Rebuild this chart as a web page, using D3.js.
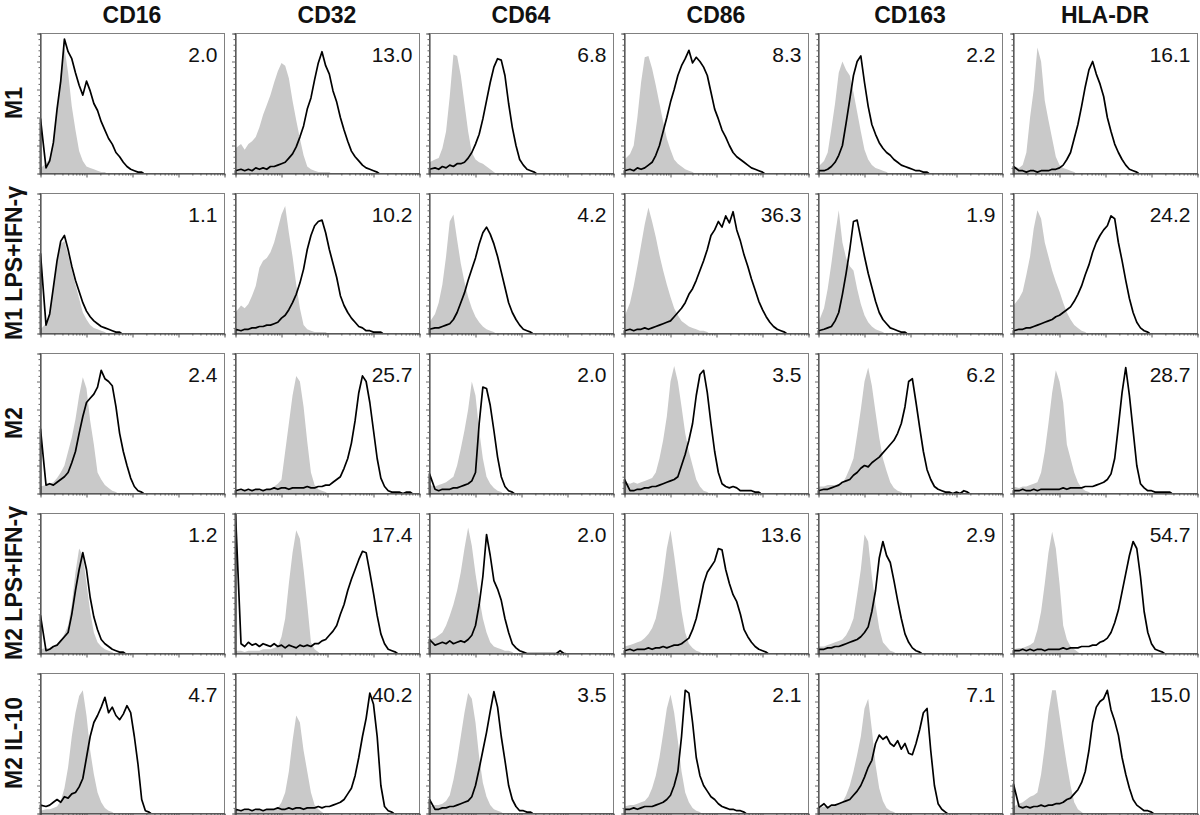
<!DOCTYPE html>
<html>
<head>
<meta charset="utf-8">
<script src="https://cdn.jsdelivr.net/npm/d3@7/dist/d3.min.js"></script>
<style>
html,body{margin:0;padding:0;background:#fff;}
svg{display:block;}
text{font-family:"Liberation Sans",Arial,Helvetica,sans-serif;}
</style>
</head>
<body>
<svg id="chart" width="1200" height="815"></svg>
<script>
// ---- categories ----
const markers = ["CD16", "CD32", "CD64", "CD86", "CD163", "HLA-DR"];
const conditions = ["M1", "M1 LPS+IFN-γ", "M2", "M2 LPS+IFN-γ", "M2 IL-10"];

// ---- numbers printed in each panel (row = condition, col = marker) ----
const panelValues = [
  [2.0, 13.0, 6.8, 8.3, 2.2, 16.1],
  [1.1, 10.2, 4.2, 36.3, 1.9, 24.2],
  [2.4, 25.7, 2.0, 3.5, 6.2, 28.7],
  [1.2, 17.4, 2.0, 13.6, 2.9, 54.7],
  [4.7, 40.2, 3.5, 2.1, 7.1, 15.0]
];

// ---- histograms: 50 channels across the log axis, counts in % of panel max ----
// isotype control (grey fill)
const isoM1 = [
  [4,7,11,23,45,71,90,72,48,31,16,9,5,4,3,2,1,1],
  [18,21,17,21,23,26,33,42,49,56,65,73,79,77,68,52,38,25,13,5,3,2,1,1,1,1],
  [8,10,11,18,30,55,85,84,70,50,30,15,10,8,7,5,3,1],
  [10,14,20,40,65,83,84,75,63,50,37,25,17,10,7,5,3,2,1],
  [5,9,15,32,50,72,80,74,70,58,44,30,17,10,6,4,3,2,1],
  [5,4,6,15,40,60,90,80,52,38,25,12,6,4,3,2,1]
];
const isoM1LPS = [
  [3,7,15,32,50,64,66,56,45,35,25,15,10,6,4,3,2,1],
  [15,20,18,21,27,34,47,52,54,58,65,75,85,91,72,55,35,18,6,3,2,1,1,1,1],
  [8,14,22,35,55,80,85,67,50,37,26,18,12,8,5,3,2,1],
  [12,22,34,48,63,78,90,80,69,56,45,35,26,18,13,9,7,5,4,3,2,2,1],
  [8,18,32,50,70,88,65,54,48,45,32,21,13,8,5,3,2,1],
  [20,25,30,42,55,75,88,82,65,55,45,37,30,22,15,10,6,4,2,1]
];
const isoM2 = [
  [5,6,7,8,11,15,20,30,40,53,70,83,75,52,35,15,10,6,4,2,1],
  [3,2,3,2,3,3,2,3,3,3,5,7,10,30,50,70,84,80,62,37,15,6,3,2,1],
  [6,5,6,7,8,10,12,20,32,45,60,80,70,45,25,12,7,4,2,1],
  [8,7,8,7,8,9,10,11,15,25,38,55,80,91,80,62,43,30,20,10,5,2,1],
  [5,5,6,6,6,7,7,12,18,25,42,60,80,90,77,58,40,25,16,8,4,2,1],
  [5,4,5,5,6,7,8,15,30,50,72,88,80,65,35,25,15,8,4,2,1]
];
const isoM2LPS = [
  [3,4,4,5,6,9,14,20,35,58,75,70,50,30,15,8,5,3,2,1],
  [2,2,1,2,2,2,2,3,3,3,4,5,12,25,50,72,88,82,60,35,8,3,1],
  [10,11,13,15,20,27,35,45,58,75,90,77,57,40,25,15,8,5,4,3,2,2,1],
  [5,6,7,8,9,11,14,18,25,38,55,75,88,70,50,30,15,7,4,2,1],
  [5,5,6,7,8,9,10,13,18,25,42,60,85,80,55,35,18,8,5,2,1],
  [3,4,4,5,6,8,17,30,50,72,87,75,50,20,10,5,3,1]
];
const isoM2IL10 = [
  [2,3,3,4,5,9,18,33,55,72,84,88,70,45,28,15,8,4,2,1],
  [2,2,2,2,2,2,3,2,3,3,3,4,8,15,30,52,70,65,45,30,15,6,3,1],
  [5,6,6,7,9,13,24,38,55,72,86,82,65,40,22,12,6,3,2,1],
  [5,6,6,7,8,9,12,18,27,40,57,75,85,72,52,30,15,8,4,2,1],
  [4,5,5,6,6,7,8,13,20,30,42,55,75,82,60,35,18,9,4,2,1],
  [5,7,8,10,12,13,15,28,48,72,88,88,70,52,35,20,8,3,1]
];

// specific antibody (black line)
const stainM1 = [
  [39,4,9,22,46,66,96,87,82,72,63,56,66,59,50,45,37,31,25,21,15,12,8,5,3,2,1,1],
  [2,3,2,3,2,4,3,4,3,5,5,6,7,8,11,14,19,26,34,46,54,67,79,87,77,71,59,51,40,31,23,16,12,9,6,4,3,2,1],
  [3,4,3,5,4,6,5,7,7,8,11,15,21,28,39,52,65,76,82,81,70,50,33,20,10,6,3,2,1],
  [2,3,2,4,3,4,6,8,13,20,30,40,51,60,70,77,82,88,79,83,80,76,70,58,46,39,31,26,20,15,12,10,8,6,4,3,2,1],
  [2,2,3,5,8,13,20,36,53,70,80,84,65,48,35,28,22,18,15,13,10,8,6,5,4,3,2,2,1,1],
  [5,2,2,1,2,2,1,2,2,2,3,3,4,6,10,15,25,35,48,62,74,80,71,64,55,40,30,21,15,10,6,3,2,1]
];
const stainM1LPS = [
  [57,6,14,33,52,66,70,60,48,38,30,22,16,12,9,7,5,4,3,2,1,1],
  [3,2,3,3,4,4,5,5,6,6,7,8,11,13,17,22,28,36,46,60,70,77,80,81,72,60,50,40,27,20,15,11,8,5,4,2,2,1,1,1],
  [3,4,4,5,6,7,10,15,22,29,38,46,54,64,72,76,71,64,55,44,33,22,15,10,6,3,2,1],
  [2,3,2,3,3,4,3,4,5,6,7,8,9,12,15,18,22,28,32,38,45,52,60,70,74,80,76,84,79,87,74,66,56,48,39,31,23,17,12,8,5,3,2,1],
  [2,3,4,5,9,15,28,43,60,80,81,68,55,43,33,23,15,10,7,4,3,2,1,1],
  [2,3,3,4,4,5,6,7,8,9,10,12,13,15,17,19,23,28,34,42,49,58,65,70,74,77,84,82,65,52,38,25,15,8,4,2,1]
];
const stainM2 = [
  [46,6,7,6,8,10,12,15,22,30,43,55,65,68,71,76,88,82,80,77,62,43,30,20,11,5,2,1],
  [2,3,2,3,2,3,3,2,3,3,4,3,4,4,3,4,4,4,4,5,4,4,5,5,6,6,8,10,12,18,25,36,52,72,84,80,65,45,25,11,5,2,1,1,1,0,1,1],
  [14,3,2,3,3,3,4,4,5,6,7,9,15,50,76,75,63,45,26,12,5,2,1],
  [10,2,2,3,3,4,4,5,5,6,7,8,9,10,12,20,28,38,50,70,85,88,72,50,30,15,7,5,4,5,4,2,2,2,2,1,1],
  [2,3,3,4,5,6,8,9,10,13,15,18,20,19,22,24,26,29,32,35,38,43,50,62,80,82,65,47,30,17,10,5,3,2,1,1,0,1,0,2,1],
  [2,2,3,2,2,3,2,3,3,3,3,3,3,4,3,4,4,4,4,5,5,5,6,7,8,10,14,25,48,72,90,70,45,20,7,4,2,2,1,1,1,1,1]
];
const stainM2LPS = [
  [27,2,3,5,6,9,12,15,28,45,60,72,60,40,26,17,10,7,5,3,2,1,1],
  [100,7,5,8,6,7,5,7,6,5,7,5,6,4,6,5,4,6,5,6,5,7,7,9,10,13,16,20,28,35,45,53,60,67,73,72,58,43,27,14,7,3,2,1],
  [10,6,7,8,7,9,7,8,9,8,10,13,20,35,55,85,70,52,46,38,25,15,7,4,2,1,0,0,0,0,0,0,0,0,0,2,0],
  [2,3,2,3,3,3,4,3,4,4,5,4,5,6,6,7,9,11,17,25,37,50,58,62,66,75,74,60,50,42,37,28,17,12,8,5,3,2,1],
  [3,3,4,4,5,5,6,7,8,9,10,12,15,19,30,45,68,80,70,65,52,38,25,14,8,4,2,1],
  [2,2,3,2,3,2,3,3,2,3,3,3,3,4,3,4,4,4,5,5,5,6,6,8,9,11,15,22,31,44,57,70,80,75,55,30,15,7,3,2,1]
];
const stainM2IL10 = [
  [6,5,6,8,10,8,12,11,14,15,19,25,40,55,65,70,76,83,72,76,70,67,71,77,72,55,35,10,2,1],
  [3,2,3,3,2,3,3,2,3,3,3,4,3,3,4,3,4,4,3,4,4,4,5,4,5,5,6,7,8,10,14,18,27,40,55,68,86,78,55,20,5,2,1],
  [10,3,3,4,4,5,5,6,7,8,9,12,20,32,45,58,73,87,76,55,38,20,10,5,2,2,1,1],
  [3,3,4,3,4,5,5,5,6,7,8,10,13,20,30,55,88,86,65,40,27,20,16,12,10,7,5,4,3,3,2,2,1],
  [4,7,4,6,6,7,8,9,10,13,16,20,26,33,38,50,56,53,55,50,48,52,46,50,43,42,50,60,72,75,45,20,7,3,1],
  [21,5,4,5,4,5,5,6,5,6,6,7,7,8,10,11,14,17,22,30,45,65,76,80,82,88,74,66,56,40,28,18,10,6,4,2,2,1]
];

const isotype = [isoM1, isoM1LPS, isoM2, isoM2LPS, isoM2IL10];
const stained = [stainM1, stainM1LPS, stainM2, stainM2LPS, stainM2IL10];

// ---- layout ----
const NB = 50;            // channels across the axis
const PW = 184, PH = 140; // panel size
const colLeft = i => Math.round(40 + i * 194.6);
const rowTop = j => Math.round(33 + j * 160);

const svg = d3.select("#chart");

const x = d3.scaleLinear().domain([0, NB]).range([0, PW]);
const y = d3.scaleLinear().domain([0, 100]).range([PH, 0]);
const xLog = d3.scaleLog().domain([1, 1e4]).range([0, PW]);

const logTicks = [];
for (let d = 0; d < 4; d++) for (let k = 1; k <= 9; k++) logTicks.push(k * Math.pow(10, d));
logTicks.push(1e4);
const yTicks = d3.range(0, 101, 4);

// channel 0 collects the off-scale events at the axis edge; other channels sit at their centre
const toPoints = arr => {
  const p = [[0, 0], [0, arr[0]]];
  arr.forEach((v, i) => { if (i > 0) p.push([i + 0.5, v]); });
  p.push([arr.length, 0]);
  return p;
};

const area = d3.area()
  .x(d => x(d[0])).y0(PH).y1(d => y(d[1]))
  .curve(d3.curveLinear);
const line = d3.line()
  .x(d => x(d[0])).y(d => y(d[1]))
  .curve(d3.curveLinear);

// column headers
svg.selectAll("text.col").data(markers).enter().append("text")
  .attr("class", "col")
  .attr("x", (d, i) => colLeft(i) + PW / 2)
  .attr("y", 23)
  .attr("text-anchor", "middle")
  .attr("font-size", 23)
  .attr("font-weight", "bold")
  .attr("fill", "#111")
  .text(d => d);

// row labels
svg.selectAll("text.row").data(conditions).enter().append("text")
  .attr("class", "row")
  .attr("transform", (d, j) => `translate(22,${rowTop(j) + PH / 2}) rotate(-90)`)
  .attr("text-anchor", "middle")
  .attr("font-size", 23)
  .attr("font-weight", "bold")
  .attr("fill", "#111")
  .text(d => d);

conditions.forEach((cond, j) => {
  markers.forEach((m, i) => {
    const g = svg.append("g")
      .attr("transform", `translate(${colLeft(i) + 0.5},${rowTop(j) + 0.5})`);

    g.append("path")
      .datum(toPoints(isotype[j][i]))
      .attr("d", area)
      .attr("fill", "#c9c9c9");

    g.append("path")
      .datum(toPoints(stained[j][i]))
      .attr("d", line)
      .attr("fill", "none")
      .attr("stroke", "#000")
      .attr("stroke-width", 1.7)
      .attr("stroke-linejoin", "round");

    g.append("rect")
      .attr("x", 0).attr("y", 0).attr("width", PW).attr("height", PH)
      .attr("fill", "none").attr("stroke", "#808080").attr("stroke-width", 1);

    const ax = g.append("g").attr("transform", `translate(0,${PH})`)
      .call(d3.axisBottom(xLog).tickValues(logTicks).tickSize(2).tickFormat(""));
    ax.selectAll(".tick line")
      .attr("y2", d => (Math.log10(d) % 1 === 0 ? 4 : 2));
    ax.select(".domain").attr("stroke", "#333");
    ax.selectAll(".tick line").attr("stroke", "#555");

    const ay = g.append("g")
      .call(d3.axisLeft(y).tickValues(yTicks).tickSize(2).tickFormat(""));
    ay.selectAll(".tick line")
      .attr("x2", d => (d % 20 === 0 ? -3.5 : -2));
    ay.select(".domain").attr("stroke", "#333");
    ay.selectAll(".tick line").attr("stroke", "#666");

    g.append("text")
      .attr("x", PW - 7)
      .attr("y", 28)
      .attr("text-anchor", "end")
      .attr("font-size", 21)
      .attr("fill", "#111")
      .text(panelValues[j][i].toFixed(1));
  });
});
</script>
</body>
</html>
